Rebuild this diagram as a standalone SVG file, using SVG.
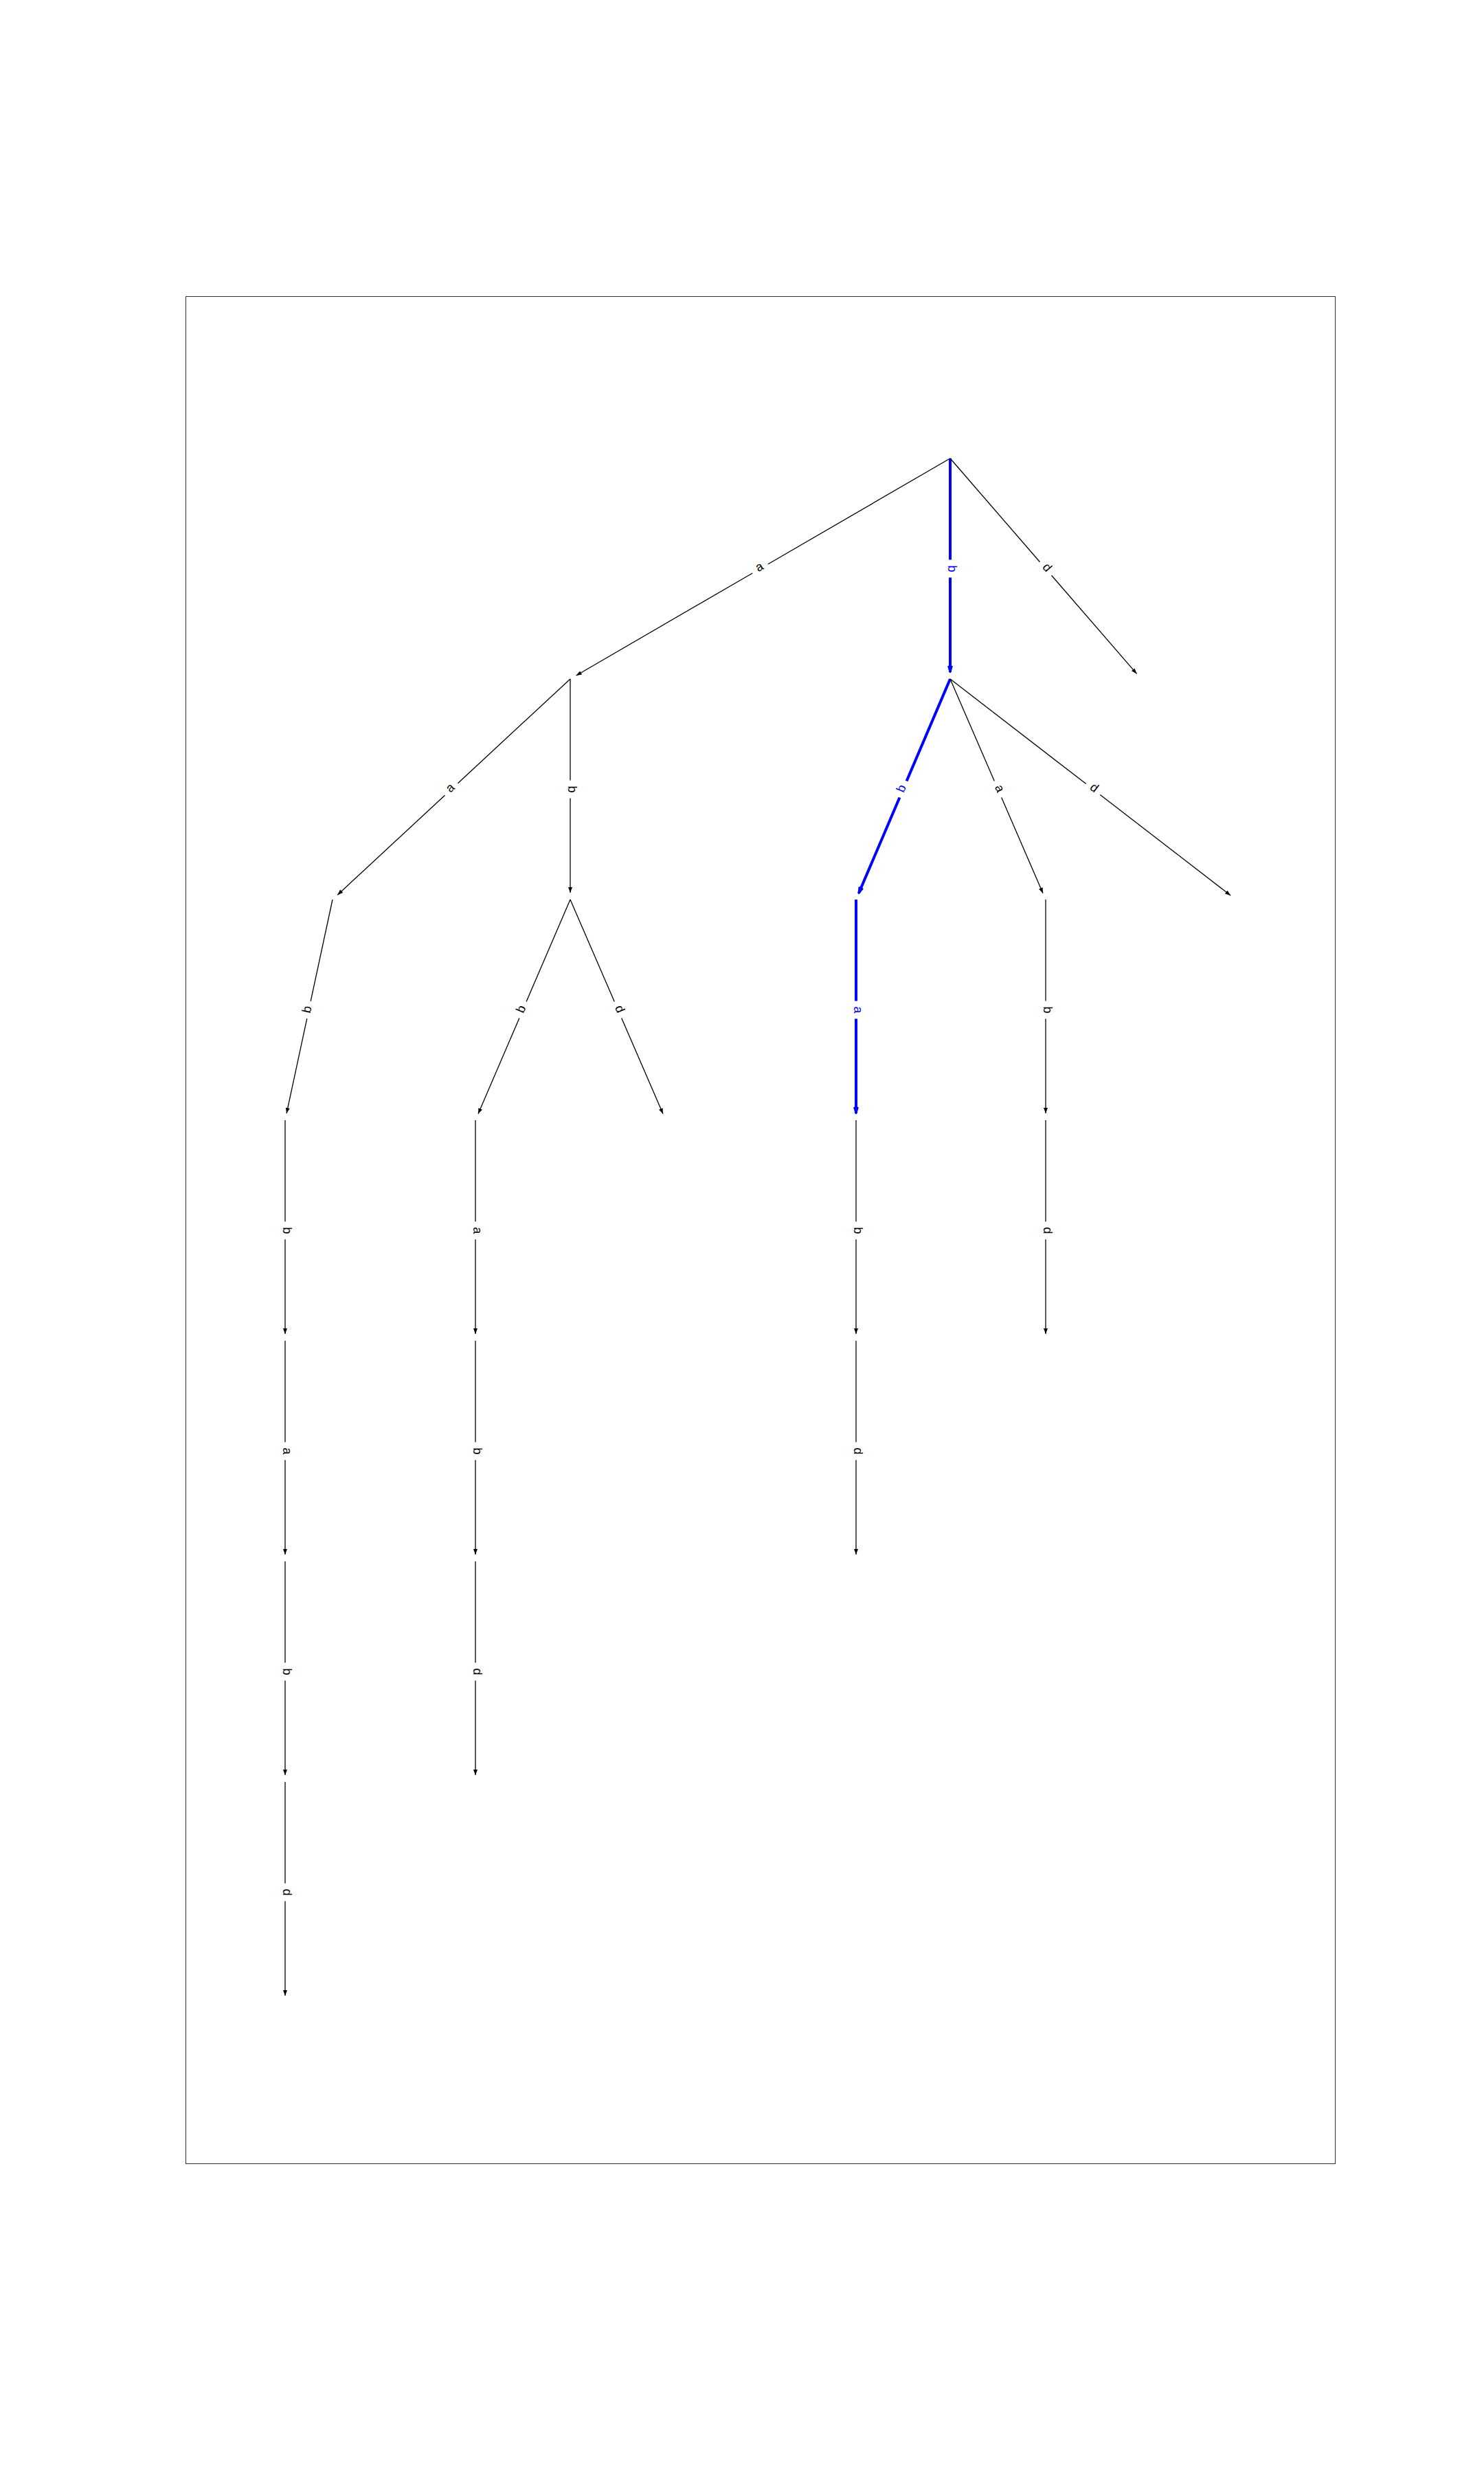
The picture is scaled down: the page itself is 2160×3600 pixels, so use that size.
<svg xmlns="http://www.w3.org/2000/svg" width="2160" height="3600" viewBox="0 0 2160 3600">
<style>
.e{fill:none;stroke:#000;stroke-width:1.3;marker-end:url(#ak)}
.h{fill:none;stroke:#0000ff;stroke-width:4;marker-end:url(#ab)}
.l{font-family:"Liberation Sans",Arial,sans-serif;font-size:18px;text-anchor:middle;fill:#000}
.lh{fill:#0000ff}
.n{fill:none;stroke:none}
</style>
<defs>
<marker id="ak" markerUnits="userSpaceOnUse" markerWidth="10" markerHeight="8" refX="8" refY="3" orient="auto" overflow="visible">
<path d="M0,0 L8,3 L0,6 z" fill="#000"/>
</marker>
<marker id="ab" markerUnits="userSpaceOnUse" markerWidth="12" markerHeight="10" refX="9" refY="4" orient="auto" overflow="visible">
<path d="M1,1.5 L9,4 L1,6.5 z" fill="#0000ff" stroke="#0000ff" stroke-width="2.5" stroke-linejoin="round"/>
</marker>
</defs>
<rect x="270.5" y="431.5" width="1673" height="2717" fill="none" stroke="#333" stroke-width="1"/>
<g id="nodes">
<g id="n_root"><circle class="n" cx="1383" cy="667" r="5"/></g>
<g id="n_a"><circle class="n" cx="830" cy="988" r="5"/></g>
<g id="n_b"><circle class="n" cx="1383" cy="988" r="5"/></g>
<g id="n_d"><circle class="n" cx="1661" cy="988" r="5"/></g>
<g id="n_aa"><circle class="n" cx="484" cy="1309" r="5"/></g>
<g id="n_ab"><circle class="n" cx="830" cy="1309" r="5"/></g>
<g id="n_bb"><circle class="n" cx="1246" cy="1309" r="5"/></g>
<g id="n_ba"><circle class="n" cx="1522" cy="1309" r="5"/></g>
<g id="n_bd"><circle class="n" cx="1799" cy="1309" r="5"/></g>
<g id="n_aab"><circle class="n" cx="415" cy="1630" r="5"/></g>
<g id="n_abb"><circle class="n" cx="692" cy="1630" r="5"/></g>
<g id="n_abd"><circle class="n" cx="969" cy="1630" r="5"/></g>
<g id="n_bba"><circle class="n" cx="1246" cy="1630" r="5"/></g>
<g id="n_bab"><circle class="n" cx="1522" cy="1630" r="5"/></g>
<g id="n_aabb"><circle class="n" cx="415" cy="1951" r="5"/></g>
<g id="n_abba"><circle class="n" cx="692" cy="1951" r="5"/></g>
<g id="n_bbab"><circle class="n" cx="1246" cy="1951" r="5"/></g>
<g id="n_babd"><circle class="n" cx="1522" cy="1951" r="5"/></g>
<g id="n_aabba"><circle class="n" cx="415" cy="2272" r="5"/></g>
<g id="n_abbab"><circle class="n" cx="692" cy="2272" r="5"/></g>
<g id="n_bbabd"><circle class="n" cx="1246" cy="2272" r="5"/></g>
<g id="n_aabbab"><circle class="n" cx="415" cy="2593" r="5"/></g>
<g id="n_abbabd"><circle class="n" cx="692" cy="2593" r="5"/></g>
<g id="n_aabbabd"><circle class="n" cx="415" cy="2914" r="5"/></g>
</g>
<g id="connectors">
<path class="e" d="M1383,667 L1117.7,821 M1095.3,834 L838.6,983"/>
<text class="l" transform="translate(1106.5,827.5) rotate(-30.13)" y="3">a</text>
<path class="h" d="M1383,667 L1383,814.5 M1383,840.5 L1383,978"/>
<text class="l lh" transform="translate(1383,827.5) rotate(90)" y="3">b</text>
<path class="e" d="M1383,667 L1513.5,817.7 M1530.5,837.3 L1654.5,980.4"/>
<text class="l" transform="translate(1522,827.5) rotate(49.1)" y="3">d</text>

<path class="e" d="M830,988 L666.5,1139.7 M647.5,1157.3 L491.3,1302.2"/>
<text class="l" transform="translate(657,1148.5) rotate(-42.86)" y="3">a</text>
<path class="e" d="M830,988 L830,1135.5 M830,1161.5 L830,1299"/>
<text class="l" transform="translate(830,1148.5) rotate(90)" y="3">b</text>
<path class="h" d="M1383,988 L1319.6,1136.5 M1309.4,1160.5 L1249.9,1299.8"/>
<text class="l lh" transform="translate(1314.5,1148.5) rotate(-66.89)" y="3">b</text>
<path class="e" d="M1383,988 L1447.3,1136.6 M1457.7,1160.4 L1518,1299.8"/>
<text class="l" transform="translate(1452.5,1148.5) rotate(66.59)" y="3">a</text>
<path class="e" d="M1383,988 L1580.7,1140.6 M1601.3,1156.4 L1791.1,1302.9"/>
<text class="l" transform="translate(1591,1148.5) rotate(37.66)" y="3">d</text>

<path class="e" d="M484,1309 L452.2,1456.8 M446.8,1482.2 L417.1,1620.2"/>
<text class="l" transform="translate(449.5,1469.5) rotate(-77.87)" y="3">b</text>
<path class="e" d="M830,1309 L766.1,1457.6 M755.9,1481.4 L696,1620.8"/>
<text class="l" transform="translate(761,1469.5) rotate(-66.73)" y="3">b</text>
<path class="e" d="M830,1309 L894.3,1457.6 M904.7,1481.4 L965,1620.8"/>
<text class="l" transform="translate(899.5,1469.5) rotate(66.59)" y="3">d</text>
<path class="h" d="M1246,1309 L1246,1456.5 M1246,1482.5 L1246,1620"/>
<text class="l lh" transform="translate(1246,1469.5) rotate(90)" y="3">a</text>
<path class="e" d="M1522,1309 L1522,1456.5 M1522,1482.5 L1522,1620"/>
<text class="l" transform="translate(1522,1469.5) rotate(90)" y="3">b</text>

<path class="e" d="M415,1630 L415,1777.5 M415,1803.5 L415,1941"/>
<text class="l" transform="translate(415,1790.5) rotate(90)" y="3">b</text>
<path class="e" d="M692,1630 L692,1777.5 M692,1803.5 L692,1941"/>
<text class="l" transform="translate(692,1790.5) rotate(90)" y="3">a</text>
<path class="e" d="M1246,1630 L1246,1777.5 M1246,1803.5 L1246,1941"/>
<text class="l" transform="translate(1246,1790.5) rotate(90)" y="3">b</text>
<path class="e" d="M1522,1630 L1522,1777.5 M1522,1803.5 L1522,1941"/>
<text class="l" transform="translate(1522,1790.5) rotate(90)" y="3">d</text>

<path class="e" d="M415,1951 L415,2098.5 M415,2124.5 L415,2262"/>
<text class="l" transform="translate(415,2111.5) rotate(90)" y="3">a</text>
<path class="e" d="M692,1951 L692,2098.5 M692,2124.5 L692,2262"/>
<text class="l" transform="translate(692,2111.5) rotate(90)" y="3">b</text>
<path class="e" d="M1246,1951 L1246,2098.5 M1246,2124.5 L1246,2262"/>
<text class="l" transform="translate(1246,2111.5) rotate(90)" y="3">d</text>

<path class="e" d="M415,2272 L415,2419.5 M415,2445.5 L415,2583"/>
<text class="l" transform="translate(415,2432.5) rotate(90)" y="3">b</text>
<path class="e" d="M692,2272 L692,2419.5 M692,2445.5 L692,2583"/>
<text class="l" transform="translate(692,2432.5) rotate(90)" y="3">d</text>

<path class="e" d="M415,2593 L415,2740.5 M415,2766.5 L415,2904"/>
<text class="l" transform="translate(415,2753.5) rotate(90)" y="3">d</text>
</g>
</svg>
